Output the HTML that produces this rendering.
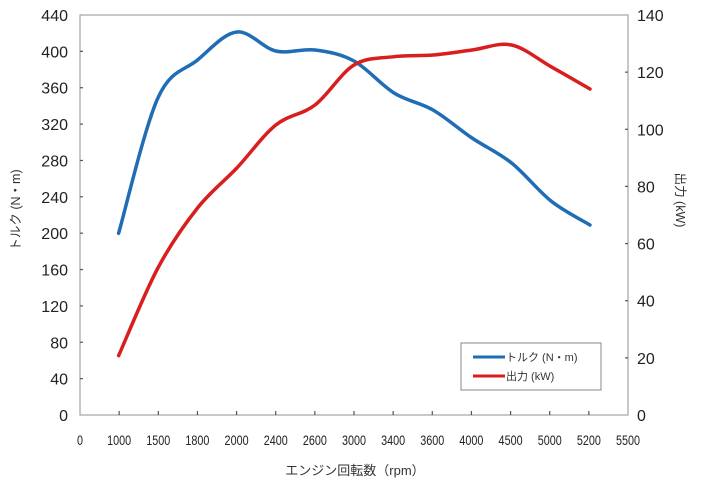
<!DOCTYPE html>
<html><head><meta charset="utf-8"><style>
html,body{margin:0;padding:0;background:#fff;}
svg{display:block;font-family:"Liberation Sans","Noto Sans CJK JP",sans-serif;}
</style></head><body>
<svg id="s" width="713" height="500" viewBox="0 0 713 500" xmlns="http://www.w3.org/2000/svg">
<rect width="713" height="500" fill="#fff"/>
<rect x="80" y="15" width="548" height="400" fill="none" stroke="#aaa" stroke-width="1.3"/>
<g id="ax" stroke="#555" stroke-width="1.2"></g>
<g id="lbl" fill="#222"></g>
<path id="pb" fill="none" stroke="#1f6db5" stroke-width="3.5" stroke-linecap="round"/>
<path id="pr" fill="none" stroke="#d91e1e" stroke-width="3.5" stroke-linecap="round"/>
<rect x="461" y="343" width="140" height="47" fill="#fff" stroke="#888" stroke-width="1"/>
<line x1="473" y1="357" x2="505" y2="357" stroke="#1f6db5" stroke-width="3"/>
<line x1="473" y1="376" x2="505" y2="376" stroke="#d91e1e" stroke-width="3"/>
<text x="506" y="361" font-size="11" fill="#333">トルク (N・m)</text>
<text x="506" y="380" font-size="11" fill="#333">出力 (kW)</text>
<text x="0" y="0" font-size="12.5" fill="#333" transform="translate(20,210) rotate(-90)" text-anchor="middle">トルク (N・m)</text>
<text x="0" y="0" font-size="12.5" fill="#333" transform="translate(676,200) rotate(90)" text-anchor="middle">出力 (kW)</text>
<text x="355" y="475" font-size="13" fill="#333" text-anchor="middle">エンジン回転数（rpm）</text>
</svg>
<script>
const ns="http://www.w3.org/2000/svg";
const ax=document.getElementById('ax'),lb=document.getElementById('lbl');
function el(p,t,a,txt){const e=document.createElementNS(ns,t);for(const k in a)e.setAttribute(k,a[k]);if(txt!==undefined)e.textContent=txt;p.appendChild(e);return e;}
for(let v=0;v<=440;v+=40){const y=415-v*400/440;
 el(lb,'text',{x:68,y:y+6,'font-size':16,'text-anchor':'end'},v);
 if(v>0&&v<440)el(ax,'line',{x1:80,y1:y,x2:83,y2:y});}
for(let v=0;v<=140;v+=20){const y=415-v*400/140;
 el(lb,'text',{x:637,y:y+6,'font-size':16},v);
 if(v>0&&v<140)el(ax,'line',{x1:625,y1:y,x2:628,y2:y});}
const xl=[0,1000,1500,1800,2000,2400,2600,3000,3400,3600,4000,4500,5000,5200,5500];
xl.forEach((v,i)=>{const x=80+i*548/14;
 const t=el(lb,'text',{x:0,y:0,'font-size':13.5,'text-anchor':'middle',transform:`translate(${x},445) scale(0.8,1)`},v);
 if(i>0&&i<14)el(ax,'line',{x1:x,y1:415,x2:x,y2:411});});
const X=[118.6,157.9,197.5,236.8,275.8,315,354,394,433,472,511.6,551,590];
const B=[233.3,98,60,32,51,50,61,93,110,138,163,201,225];
const R=[355.7,268,208,168,125,105,65,56.7,55,50,45,66.7,89];
function cr(Y){let d=`M${X[0]},${Y[0]}`;const n=X.length;
 for(let i=0;i<n-1;i++){const p0=i?i-1:i,p3=i+2<n?i+2:i+1;
  const c1x=X[i]+(X[i+1]-X[p0])/6,c1y=Y[i]+(Y[i+1]-Y[p0])/6;
  const c2x=X[i+1]-(X[p3]-X[i])/6,c2y=Y[i+1]-(Y[p3]-Y[i])/6;
  d+=` C${c1x},${c1y} ${c2x},${c2y} ${X[i+1]},${Y[i+1]}`;}
 return d;}
document.getElementById('pb').setAttribute('d',cr(B));
document.getElementById('pr').setAttribute('d',cr(R));
</script>
</body></html>
